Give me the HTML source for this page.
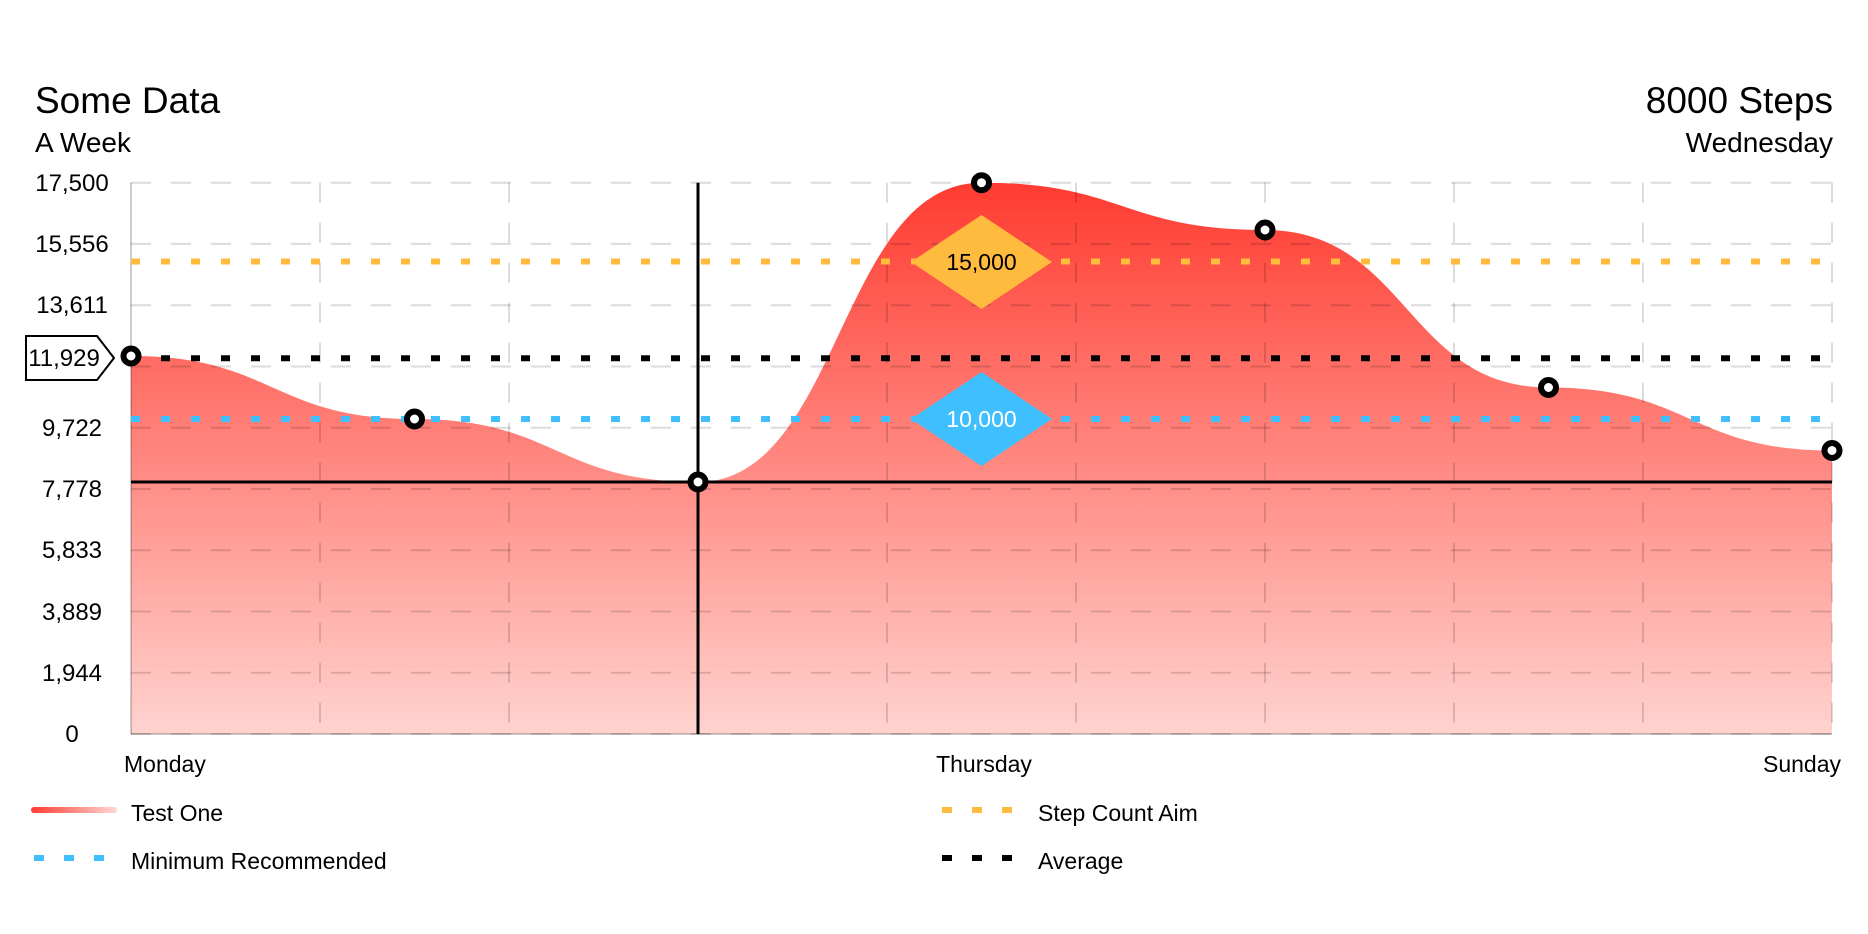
<!DOCTYPE html>
<html><head><meta charset="utf-8"><style>
html,body{margin:0;padding:0;background:#fff;}
svg{display:block;font-family:"Liberation Sans",sans-serif;}
</style></head><body>
<svg width="1868" height="934" viewBox="0 0 1868 934" xmlns="http://www.w3.org/2000/svg">
<defs>
<linearGradient id="fill" x1="0" y1="182.7" x2="0" y2="734" gradientUnits="userSpaceOnUse">
<stop offset="0" stop-color="#ff3b30"/><stop offset="1" stop-color="#ffd3cf"/>
</linearGradient>
<linearGradient id="leg" x1="31" x2="117" y1="0" y2="0" gradientUnits="userSpaceOnUse">
<stop offset="0" stop-color="#ff3b30"/><stop offset="1" stop-color="#ffd8d5"/>
</linearGradient>
</defs>
<text x="35" y="113" font-size="37" fill="#000">Some Data</text>
<text x="35" y="152" font-size="28" fill="#000">A Week</text>
<text x="1833" y="113" font-size="37" fill="#000" text-anchor="end">8000 Steps</text>
<text x="1833" y="152" font-size="28" fill="#000" text-anchor="end">Wednesday</text>

<path d="M131,356 C272.75,356 272.75,419 414.5,419 C556.25,419 556.25,482 698,482 C839.75,482 839.75,182.7 981.5,182.7 C1123.25,182.7 1123.25,230 1265,230 C1406.75,230 1406.75,387.5 1548.5,387.5 C1690.25,387.5 1690.25,450.5 1832,450.5 L1832,734 L131,734 Z" fill="url(#fill)"/>

<g stroke="rgba(0,0,0,0.14)" stroke-width="2" stroke-dasharray="20 20" fill="none">
<line x1="131" x2="1832" y1="182.7" y2="182.7"/>
<line x1="131" x2="1832" y1="243.9" y2="243.9"/>
<line x1="131" x2="1832" y1="305.2" y2="305.2"/>
<line x1="131" x2="1832" y1="366.5" y2="366.5"/>
<line x1="131" x2="1832" y1="427.7" y2="427.7"/>
<line x1="131" x2="1832" y1="489" y2="489"/>
<line x1="131" x2="1832" y1="550.2" y2="550.2"/>
<line x1="131" x2="1832" y1="611.5" y2="611.5"/>
<line x1="131" x2="1832" y1="672.7" y2="672.7"/>
<line x1="131" x2="1832" y1="734" y2="734"/>
<line x1="320" x2="320" y1="182.7" y2="734"/>
<line x1="509" x2="509" y1="182.7" y2="734"/>
<line x1="698" x2="698" y1="182.7" y2="734"/>
<line x1="887" x2="887" y1="182.7" y2="734"/>
<line x1="1076" x2="1076" y1="182.7" y2="734"/>
<line x1="1265" x2="1265" y1="182.7" y2="734"/>
<line x1="1454" x2="1454" y1="182.7" y2="734"/>
<line x1="1643" x2="1643" y1="182.7" y2="734"/>
<line x1="1832" x2="1832" y1="182.7" y2="734"/>
</g>
<line x1="131" x2="131" y1="182.7" y2="734" stroke="rgba(0,0,0,0.2)" stroke-width="2"/>
<line x1="131" x2="1832" y1="734" y2="734" stroke="rgba(0,0,0,0.2)" stroke-width="2"/>

<g font-size="24" fill="#000" text-anchor="middle">
<text x="72" y="191">17,500</text>
<text x="72" y="252">15,556</text>
<text x="72" y="313">13,611</text>
<text x="72" y="436">9,722</text>
<text x="72" y="497">7,778</text>
<text x="72" y="558">5,833</text>
<text x="72" y="620">3,889</text>
<text x="72" y="681">1,944</text>
<text x="72" y="742">0</text>
</g>

<g stroke-width="6" stroke-dasharray="9 21" fill="none">
<line x1="131" x2="1832" y1="261.5" y2="261.5" stroke="#ffbb3d"/>
<line x1="131" x2="1832" y1="419" y2="419" stroke="#40bfff"/>
<line x1="131" x2="1832" y1="358.2" y2="358.2" stroke="#000"/>
</g>

<line x1="698" x2="698" y1="182.7" y2="734" stroke="#000" stroke-width="3"/>
<line x1="131" x2="1832" y1="482" y2="482" stroke="#000" stroke-width="3"/>

<polygon points="911,262 981.5,215 1052,262 981.5,309" fill="#ffbb3d"/>
<text x="981.5" y="270" font-size="23" text-anchor="middle" fill="#000">15,000</text>
<polygon points="911,419 981.5,372 1052,419 981.5,466" fill="#40bfff"/>
<text x="981.5" y="427" font-size="23" text-anchor="middle" fill="#fff">10,000</text>

<polygon points="26,336 97,336 114,358 97,380 26,380" fill="#fff" stroke="#000" stroke-width="2"/>
<text x="64" y="366" font-size="24" text-anchor="middle" fill="#000">11,929</text>

<g fill="#fff" stroke="#000" stroke-width="6">
<circle cx="131" cy="356" r="7.5"/>
<circle cx="414.5" cy="419" r="7.5"/>
<circle cx="698" cy="482" r="7.5"/>
<circle cx="981.5" cy="182.7" r="7.5"/>
<circle cx="1265" cy="230" r="7.5"/>
<circle cx="1548.5" cy="387.5" r="7.5"/>
<circle cx="1832" cy="450.5" r="7.5"/>
</g>

<g font-size="23" fill="#000">
<text x="124" y="772">Monday</text>
<text x="984" y="772" text-anchor="middle">Thursday</text>
<text x="1841" y="772" text-anchor="end">Sunday</text>
</g>

<rect x="31" y="807" width="86" height="6" rx="3" fill="url(#leg)"/>
<text x="131" y="821" font-size="23" fill="#000">Test One</text>
<line x1="34" x2="110" y1="858" y2="858" stroke="#40bfff" stroke-width="6" stroke-dasharray="10 20"/>
<text x="131" y="869" font-size="23" fill="#000">Minimum Recommended</text>
<line x1="942" x2="1018" y1="810" y2="810" stroke="#ffbb3d" stroke-width="6" stroke-dasharray="10 20"/>
<text x="1038" y="821" font-size="23" fill="#000">Step Count Aim</text>
<line x1="942" x2="1018" y1="858" y2="858" stroke="#000" stroke-width="6" stroke-dasharray="10 20"/>
<text x="1038" y="869" font-size="23" fill="#000">Average</text>
</svg>
</body></html>
